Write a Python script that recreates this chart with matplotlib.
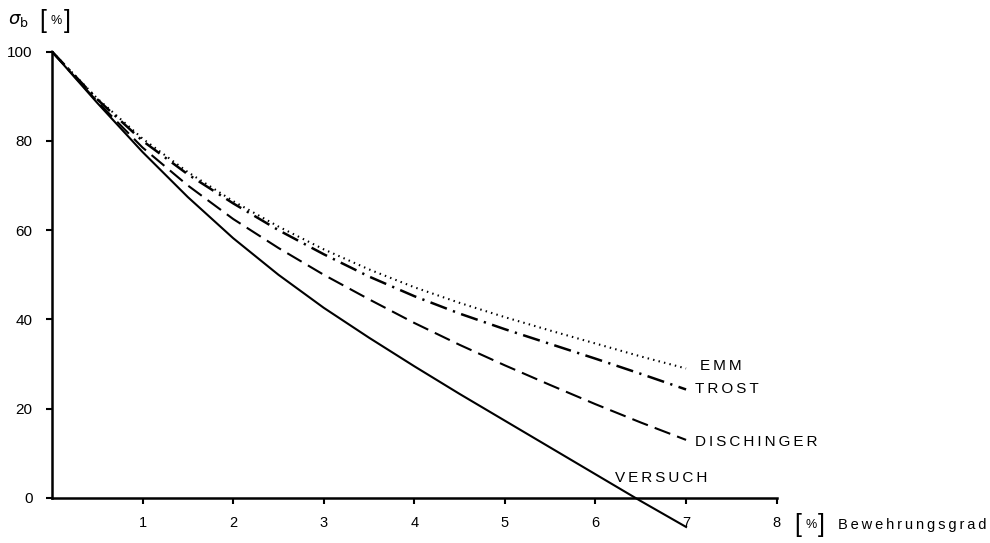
import matplotlib
matplotlib.use("Agg")
import matplotlib.pyplot as plt

# Bewehrungsgrad [%]
x = [0, 0.5, 1, 1.5, 2, 2.5, 3, 3.5, 4, 4.5, 5, 5.5, 6, 6.5, 7]

# sigma_b [%]
emm = [100, 89.5, 80.5, 73, 66.5, 60.8, 55.7, 51.2, 47.2, 43.7, 40.5, 37.5, 34.6, 31.7, 29]
trost = [100, 89.3, 80, 72.5, 66, 60, 54.6, 49.6, 45.2, 41.3, 37.8, 34.5, 31.2, 27.8, 24.3]
dischinger = [100, 88.8, 78.5, 70, 62.5, 56, 50, 44.5, 39.2, 34.3, 29.7, 25.3, 21, 16.9, 13]
versuch = [100, 88.5, 77.5, 67.4, 58.2, 50, 42.6, 35.9, 29.5, 23.3, 17.3, 11.3, 5.3, -0.7, -6.5]

xticks = [1, 2, 3, 4, 5, 6, 7, 8]
yticks = [0, 20, 40, 60, 80, 100]

plt.rcParams['font.family'] = ['Liberation Sans', 'DejaVu Sans']

fig = plt.figure(figsize=(9.9, 5.43), dpi=100)
ax = fig.add_axes([0.0525, 0.083, 0.732, 0.822])

lw = 1.5
ax.plot(x, emm, color='black', lw=lw, linestyle=(0, (0.7, 2.0)), clip_on=False)
ax.plot(x, trost, color='black', lw=lw + 0.3, linestyle=(0, (7, 2.6, 0.9, 2.6)), clip_on=False)
ax.plot(x, dischinger, color='black', lw=lw, linestyle=(0, (8, 3.5)), clip_on=False)
ax.plot(x, versuch, color='black', lw=lw, clip_on=False)

ax.set_xlim(0, 8)
ax.set_ylim(0, 100)
ax.set_xticks(xticks)
ax.set_yticks(yticks)
ax.set_xticklabels([str(t) for t in xticks])
ax.set_yticklabels([str(t) for t in yticks])
ax.tick_params(axis='x', direction='out', length=4, width=1.5, pad=9, labelsize=10.5)
ax.tick_params(axis='y', direction='out', length=4, width=1.5, pad=10, labelsize=11)

for s in ['top', 'right']:
    ax.spines[s].set_visible(False)
for s in ['left', 'bottom']:
    ax.spines[s].set_linewidth(1.8)

TS = '\u2009'

def spaced(s):
    return TS.join(s)

# curve names
lab = dict(fontsize=11, ha='left', va='center')
ax.text(7.15, emm[-1] + 0.5, spaced('EMM'), **lab)
ax.text(7.1, trost[-1] + 0.2, spaced('TROST'), **lab)
ax.text(7.1, dischinger[-1] - 0.5, spaced('DISCHINGER'), **lab)
ax.text(6.22, 4.5, spaced('VERSUCH'), **lab)


def bracket_pct(fx, fy):
    fig.text(fx, fy, '[', fontsize=18, va='center', ha='left', fontweight='light')
    fig.text(fx + 0.0115, fy, '%', fontsize=9, va='center', ha='left')
    fig.text(fx + 0.024, fy, ']', fontsize=18, va='center', ha='left', fontweight='light')


# axis titles
fig.text(0.008, 0.962, r'$\sigma_{\rm b}$', fontsize=13, va='center', ha='left')
bracket_pct(0.040, 0.962)
bracket_pct(0.802, 0.033)
fig.text(0.846, 0.033, spaced('Bewehrungsgrad'), fontsize=10.5, va='center', ha='left')

fig.savefig('out.png', dpi=100)
